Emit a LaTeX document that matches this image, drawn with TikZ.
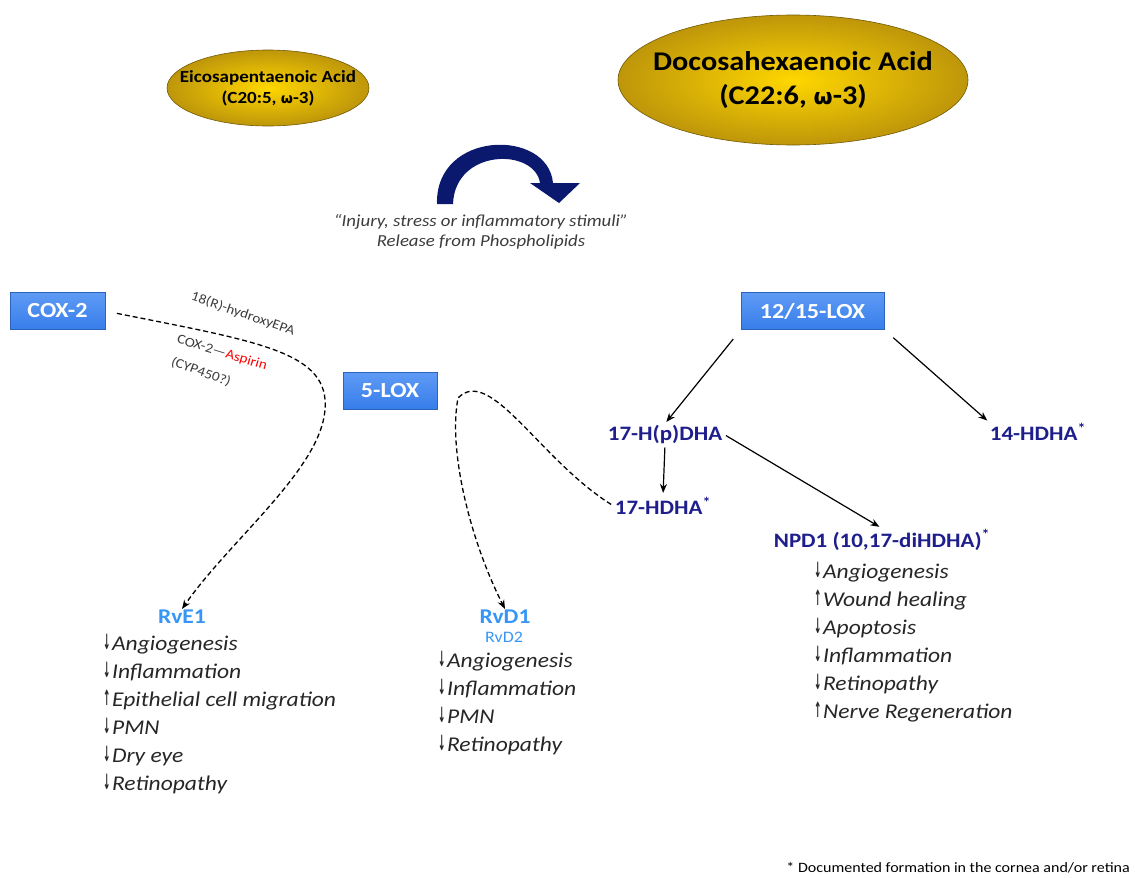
\documentclass[tikz,border=0pt]{standalone}
\usepackage{fontspec}
\setmainfont{Carlito}[FakeStretch=1.12]
\newfontfamily\symf{DejaVu Sans}
\usetikzlibrary{arrows.meta,shapes.geometric,calc}
\definecolor{navytxt}{RGB}{30,30,140}
\definecolor{lblue}{RGB}{55,150,245}
\definecolor{boxtop}{RGB}{95,155,245}
\definecolor{boxbot}{RGB}{55,125,235}
\definecolor{goldin}{RGB}{255,215,0}
\definecolor{goldout}{RGB}{190,150,10}
\definecolor{arrnavy}{RGB}{10,25,110}
\definecolor{gtxt}{RGB}{60,60,60}
\newcommand{\dn}{{\symf\bfseries\fontsize{21}{21}\selectfont\raisebox{0.5pt}{\scalebox{0.42}[1]{↓}}}\hspace{1.5pt}}
\newcommand{\up}{{\symf\bfseries\fontsize{21}{21}\selectfont\raisebox{0.5pt}{\scalebox{0.42}[1]{↑}}}\hspace{1.5pt}}
\begin{document}
\begin{tikzpicture}[x=1pt,y=-1pt,
  enz/.style={rectangle,top color=boxtop,bottom color=boxbot,draw=boxbot!80!black,line width=0.4pt,
    text=white,font=\fontsize{21.5}{21.5}\selectfont\bfseries,minimum height=37,inner sep=0pt},
  acid/.style={ellipse,inner color=goldin,outer color=goldout,draw=goldout!60!black,line width=0.6pt,inner sep=0pt},
  acidtxt/.style={align=center,text=black,inner sep=0pt},
  met/.style={text=navytxt,font=\fontsize{20.5}{20.5}\selectfont\bfseries,inner sep=1pt},
  eff/.style={align=left,font=\fontsize{21}{28}\selectfont\itshape,text=black!85,anchor=north west,inner sep=0pt},
  dsh/.style={dashed,dash pattern=on 5pt off 3pt,line width=1.3pt,-{Stealth[length=9pt,width=7pt]}},
  sol/.style={line width=1.2pt,-{Stealth[length=9pt,width=7pt]}},
  lab/.style={font=\fontsize{13.5}{14}\selectfont,text=gtxt,inner sep=0pt}]
\useasboundingbox (0,0) rectangle (1135,878);
% acids
\node[acid,minimum width=202,minimum height=76] (epa) at (268,88) {};
\node[acidtxt,font=\fontsize{17}{21}\selectfont\bfseries] (epatxt) at (epa.center) {Eicosapentaenoic Acid\\(C20:5, {\symf\fontsize{14}{14}\selectfont ω}-3)};
\node[acid,minimum width=350,minimum height=130] (dha) at (793,80) {};
\node[acidtxt,font=\fontsize{27}{34}\selectfont\bfseries] (dhatxt) at (dha.center) {Docosahexaenoic Acid\\(C22:6, {\symf\fontsize{22}{22}\selectfont ω}-3)};
% curved arrow
\fill[arrnavy] (437,204) .. controls (435,130) and (548,128) .. (553,183) -- (580,183) -- (559,203) -- (530,183) -- (540,183) .. controls (535,148) and (455,148) .. (453,204) -- cycle;
\node[font=\fontsize{16.8}{20}\selectfont\itshape,text=gtxt,align=center] (stim) at (481,232) {“Injury, stress or inflammatory stimuli”\\Release from Phospholipids};
% enzymes
\node[enz,minimum width=95] (cox) at (57.5,311) {COX-2};
\node[enz,minimum width=94] (lox5) at (390,390.5) {5-LOX};
\node[enz,minimum width=143] (lox12) at (812.5,311) {12/15-LOX};
% metabolites
\node[met] (hpdha) at (665,434) {17-H(p)DHA};
\node[met] (hdha14) at (1038,432) {14-HDHA\textsuperscript{*}};
\node[met] (hdha17) at (663,506) {17-HDHA\textsuperscript{*}};
\node[met] (npd1) at (882,540) {NPD1 (10,17-diHDHA)\textsuperscript{*}};
\node[text=lblue,font=\fontsize{21}{21}\selectfont\bfseries,inner sep=1pt] (rve1) at (182,617) {RvE1};
\node[text=lblue,font=\fontsize{21}{21}\selectfont\bfseries,inner sep=1pt] (rvd1) at (505,617) {RvD1};
\node[text=lblue,font=\fontsize{16}{16}\selectfont,inner sep=1pt] (rvd2) at (504,637) {RvD2};
% effects
\node[eff] (effe) at (103,634) {\dn Angiogenesis\\\dn Inflammation\\\up Epithelial cell migration\\\dn PMN\\\dn Dry eye\\\dn Retinopathy};
\node[eff] (effd) at (438,651) {\dn Angiogenesis\\\dn Inflammation\\\dn PMN\\\dn Retinopathy};
\node[eff] (effn) at (814,562) {\dn Angiogenesis\\\up Wound healing\\\dn Apoptosis\\\dn Inflammation\\\dn Retinopathy\\\up Nerve Regeneration};
% connectors
\draw[dsh,shorten <=12pt] (cox.east) .. controls (260,342) and (330,352) .. (325,410) .. controls (320,470) and (230,540) .. (rve1.north);
\draw[dsh,shorten <=3pt] (hdha17.west) .. controls (540,460) and (490,365) .. (458,398) .. controls (448,450) and (470,540) .. (rvd1.north);
\draw[sol,shorten <=12pt,shorten >=2pt] (lox12.south west) -- (hpdha.north);
\draw[sol,shorten <=12pt,shorten >=2pt] (lox12.south east) -- (hdha14.north west);
\draw[sol,shorten <=3pt,shorten >=3pt] (hpdha.south) -- (hdha17.north);
\draw[sol,shorten <=3pt,shorten >=3pt] (hpdha.east) -- (npd1.north);
% rotated labels
\node[lab,rotate=-19] (l1) at (243,314) {18(R)-hydroxyEPA};
\node[lab,rotate=-17] (l2) at (222,353) {COX-2—\textcolor{red}{Aspirin}};
\node[lab,rotate=-20] (l3) at (201,372) {(CYP450?)};
% footnote
\node[font=\fontsize{14.3}{14}\selectfont,anchor=east,inner sep=0pt] (foot) at (1130,868) {* Documented formation in the cornea and/or retina};
\end{tikzpicture}
\end{document}
